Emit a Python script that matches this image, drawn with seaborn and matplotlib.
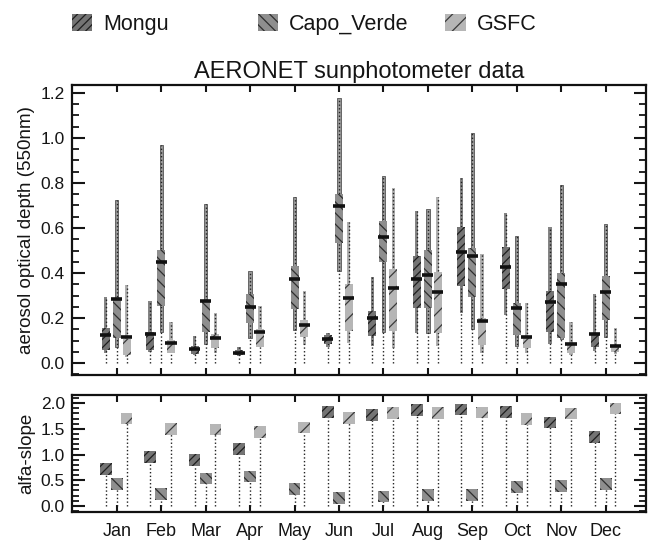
import matplotlib
matplotlib.use("Agg")
import matplotlib.pyplot as plt
import numpy as np
import seaborn as sns
from matplotlib.patches import Patch
from matplotlib.ticker import FormatStrFormatter, MultipleLocator

nan = np.nan
months = ["Jan", "Feb", "Mar", "Apr", "May", "Jun", "Jul", "Aug", "Sep", "Oct", "Nov", "Dec"]
sites = ["Mongu", "Capo_Verde", "GSFC"]

# aerosol optical depth statistics (min, 25%, median, 75%, max)
mongu_min = [0.043, 0.050, 0.036, 0.031, nan, 0.073, 0.076, 0.135, 0.221, 0.213, 0.087, 0.053]
mongu_q25 = [0.058, 0.058, 0.040, 0.036, nan, 0.087, 0.120, 0.246, 0.342, 0.327, 0.139, 0.073]
mongu_med = [0.124, 0.129, 0.064, 0.046, nan, 0.105, 0.199, 0.375, 0.492, 0.428, 0.273, 0.129]
mongu_q75 = [0.154, 0.139, 0.076, 0.058, nan, 0.124, 0.233, 0.477, 0.606, 0.514, 0.321, 0.135]
mongu_max = [0.292, 0.277, 0.120, 0.070, nan, 0.135, 0.381, 0.676, 0.824, 0.665, 0.603, 0.305]

capo_min = [0.070, 0.139, 0.084, 0.110, 0.147, 0.410, 0.139, 0.135, 0.150, 0.076, 0.105, 0.117]
capo_q25 = [0.110, 0.253, 0.139, 0.176, 0.239, 0.535, 0.450, 0.246, 0.295, 0.124, 0.110, 0.191]
capo_med = [0.283, 0.447, 0.277, 0.250, 0.373, 0.699, 0.559, 0.390, 0.477, 0.243, 0.351, 0.314]
capo_q75 = [0.290, 0.502, 0.272, 0.305, 0.431, 0.751, 0.631, 0.502, 0.510, 0.268, 0.401, 0.387]
capo_max = [0.724, 0.969, 0.707, 0.410, 0.739, 1.176, 0.831, 0.684, 1.021, 0.564, 0.791, 0.618]

gsfc_min = [0.028, 0.043, 0.043, 0.070, 0.080, 0.090, 0.065, 0.076, 0.043, 0.043, 0.036, 0.040]
gsfc_q25 = [0.036, 0.045, 0.065, 0.073, 0.114, 0.144, 0.144, 0.135, 0.080, 0.065, 0.043, 0.050]
gsfc_med = [0.117, 0.090, 0.110, 0.136, 0.169, 0.287, 0.333, 0.317, 0.188, 0.114, 0.083, 0.076]
gsfc_q75 = [0.105, 0.102, 0.129, 0.150, 0.191, 0.351, 0.418, 0.404, 0.199, 0.117, 0.087, 0.080]
gsfc_max = [0.347, 0.181, 0.221, 0.253, 0.320, 0.628, 0.776, 0.739, 0.483, 0.265, 0.181, 0.154]

# angstrom exponent
mongu_alfa = [0.718, 0.951, 0.893, 1.107, nan, 1.825, 1.767, 1.864, 1.877, 1.832, 1.625, 1.346]
capo_alfa = [0.427, 0.227, 0.531, 0.570, 0.330, 0.160, 0.180, 0.214, 0.214, 0.362, 0.388, 0.420]
gsfc_alfa = [1.700, 1.495, 1.489, 1.443, 1.528, 1.710, 1.812, 1.812, 1.819, 1.689, 1.800, 1.896]

stats = {
    "Mongu": (mongu_min, mongu_q25, mongu_med, mongu_q75, mongu_max, mongu_alfa),
    "Capo_Verde": (capo_min, capo_q25, capo_med, capo_q75, capo_max, capo_alfa),
    "GSFC": (gsfc_min, gsfc_q25, gsfc_med, gsfc_q75, gsfc_max, gsfc_alfa),
}
offsets = {"Mongu": -0.25, "Capo_Verde": 0.0, "GSFC": 0.22}
fills = {"Mongu": "#747474", "Capo_Verde": "#8e8e8e", "GSFC": "#b6b6b6"}
thin_fills = {"Mongu": "#858585", "Capo_Verde": "#9a9a9a", "GSFC": "#b0b0b0"}
hatch_colors = {"Mongu": "#1e1e1e", "Capo_Verde": "#2e2e2e", "GSFC": "#3a3a3a"}
hatches = {"Mongu": "////", "Capo_Verde": "\\\\\\", "GSFC": "//"}

sns.set_theme(style="ticks")
plt.rcParams["font.family"] = ["Liberation Sans", "DejaVu Sans"]
plt.rcParams["hatch.linewidth"] = 0.9
plt.rcParams["axes.linewidth"] = 1.6
plt.rcParams["text.color"] = "#151515"
plt.rcParams["axes.labelcolor"] = "#151515"
plt.rcParams["xtick.color"] = "#151515"
plt.rcParams["ytick.color"] = "#151515"

fig = plt.figure(figsize=(6.48, 5.41), dpi=100)
ax1 = fig.add_axes([0.111, 0.3068, 0.886, 0.536])
ax2 = fig.add_axes([0.111, 0.0536, 0.886, 0.2163])

x = np.arange(1, 13)
for site in sites:
    lo, q25, med, q75, hi, alfa = [np.asarray(v, dtype=float) for v in stats[site]]
    xs = x + offsets[site]
    # min-max bar
    ax1.bar(xs, hi - lo, bottom=lo, width=0.075, color=thin_fills[site],
            edgecolor="#555555" if site == "Capo_Verde" else "none",
            linewidth=0.6, zorder=2)
    ax1.vlines(xs, 0, hi, colors="#222222", linestyles=":", linewidth=1.0, zorder=3)
    # interquartile box
    ax1.bar(xs, q75 - q25, bottom=q25, width=0.18, color=fills[site],
            hatch=hatches[site], edgecolor=hatch_colors[site], linewidth=0, zorder=4)
    ax1.hlines(med, xs - 0.125, xs + 0.125, colors="#111111", linewidth=2.6, zorder=5)

    ax2.vlines(xs, 0, alfa, colors="#222222", linestyles=":", linewidth=1.0, zorder=2)
    sns.scatterplot(x=xs, y=alfa, ax=ax2, marker="s", s=72, color=fills[site],
                    hatch=hatches[site], edgecolor=hatch_colors[site], linewidth=0,
                    zorder=4, legend=False)

ax1.set_xlim(-0.01, 12.91)
ax1.set_ylim(-0.053, 1.235)
ax1.set_xticks(x)
ax1.yaxis.set_major_locator(MultipleLocator(0.2))
ax1.yaxis.set_minor_locator(MultipleLocator(0.05))
ax1.yaxis.set_major_formatter(FormatStrFormatter("%.1f"))
ax1.tick_params(axis="x", which="both", direction="in", top=True, bottom=True,
                labelbottom=False, length=5, width=1.5)
ax1.tick_params(axis="y", which="major", direction="in", left=True, right=True,
                length=9, width=1.5, labelsize=12.5, pad=5)
ax1.tick_params(axis="y", which="minor", direction="in", left=True, right=True,
                length=5, width=1.3)
ax1.set_ylabel("aerosol optical depth (550nm)", fontsize=13.5, labelpad=4)
ax1.set_title("AERONET sunphotometer data", fontsize=17, pad=5)

ax2.set_xlim(-0.01, 12.91)
ax2.set_ylim(-0.12, 2.16)
ax2.set_xticks(x)
ax2.set_xticklabels(months)
ax2.yaxis.set_major_locator(MultipleLocator(0.5))
ax2.yaxis.set_minor_locator(MultipleLocator(0.1))
ax2.yaxis.set_major_formatter(FormatStrFormatter("%.1f"))
ax2.tick_params(axis="x", which="both", direction="in", top=True, bottom=True,
                length=5, width=1.5, labelsize=13, pad=8)
ax2.tick_params(axis="y", which="major", direction="in", left=True, right=True,
                length=9, width=1.5, labelsize=12.5, pad=5)
ax2.tick_params(axis="y", which="minor", direction="in", left=True, right=True,
                length=5, width=1.3)
ax2.set_ylabel("alfa-slope", fontsize=13.5, labelpad=4)

for ax in (ax1, ax2):
    for spine in ax.spines.values():
        spine.set_visible(True)
        spine.set_color("#111111")

legend_x = {"Mongu": 0.111, "Capo_Verde": 0.398, "GSFC": 0.687}
for site in sites:
    handle = Patch(facecolor=fills[site], hatch=hatches[site],
                   edgecolor=hatch_colors[site], linewidth=0, label=site)
    fig.legend(handles=[handle], loc="center left", bbox_to_anchor=(legend_x[site], 0.955),
               frameon=False, borderaxespad=0, borderpad=0, handlelength=0.95,
               handleheight=0.8, handletextpad=0.5, fontsize=15.5)

fig.savefig("out.png", dpi=100)
